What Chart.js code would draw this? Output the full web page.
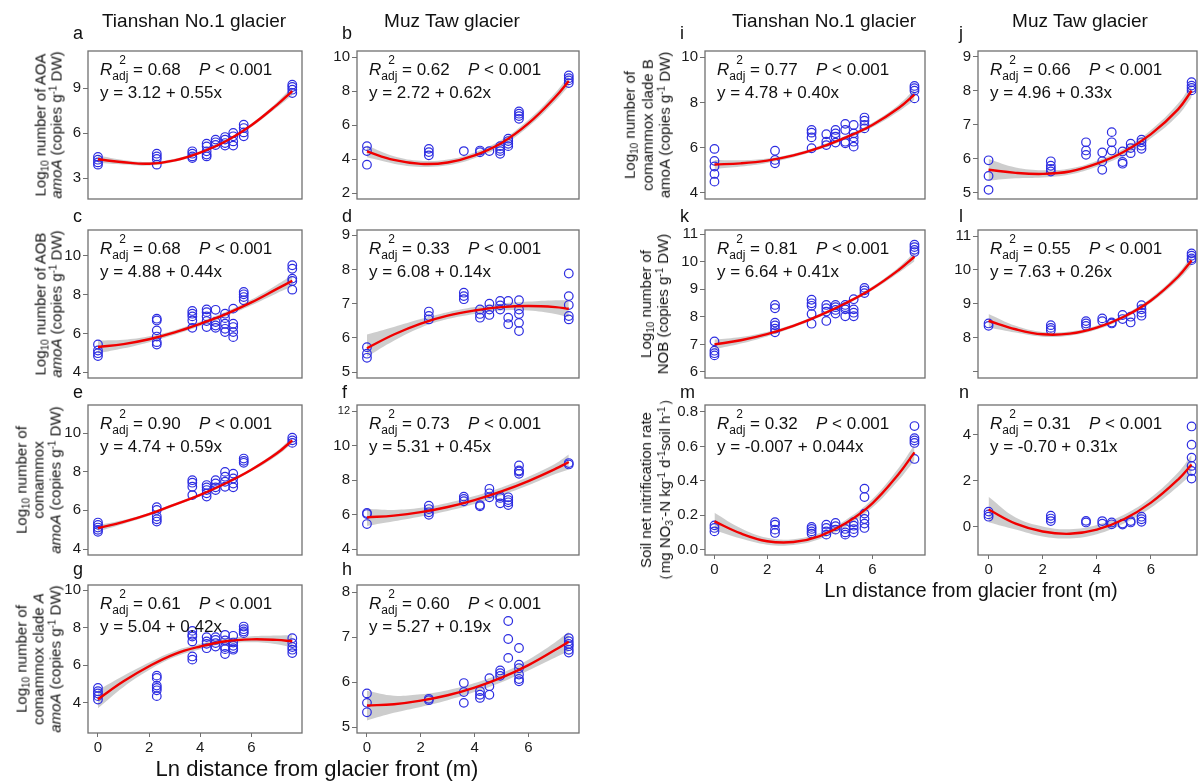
<!DOCTYPE html>
<html>
<head>
<meta charset="utf-8">
<script src="https://cdn.jsdelivr.net/npm/chart.js@4.4.1/dist/chart.umd.min.js"></script>
<style>
  body { margin: 0; background: #fff; }
  #fig { position: relative; width: 1203px; height: 782px; overflow: hidden;
         font-family: 'Liberation Sans', Arial, sans-serif; color: #111; }
  #fig canvas { position: absolute; }
  .abs { position: absolute; white-space: nowrap; line-height: 1; }
  .title { font-size: 19px; transform: translateX(-50%); }
  .let { font-size: 18px; }
  .ann { font-size: 17px; }
  .ss { display: inline-block; position: relative; width: 16px; height: 10px; }
  .ss span { position: absolute; font-size: 12px; line-height: 1; }
  .yl { font-size: 15px; text-align: center; transform: translate(-50%, -50%) rotate(-90deg); }
  .yl sub, .yl sup { font-size: 10px; line-height: 0; }
  .yl sub { vertical-align: -3px; }
  .yl sup { vertical-align: 5px; }
  .xt { font-size: 20px; transform: translateX(-50%); }
</style>
</head>
<body>
<div id="fig"></div>
<script>
// site positions (ln distance from glacier front)
const xTian = [0, 2.3, 3.69, 4.25, 4.6, 4.97, 5.29, 5.7, 7.6];
const xMuz = [0, 2.3, 3.6, 4.2, 4.55, 4.95, 5.25, 5.65, 7.5];
const fitXTian = [0, 1, 2, 3, 4, 5, 6, 7, 7.6];
const fitXMuz = [0, 1, 2, 3, 4, 5, 6, 7, 7.5];
const xTicks = [0, 2, 4, 6];

// a - AOA, Tianshan
const aPts = [[4.4,4.22,4.04,3.89],[4.62,4.44,4.27,3.89],[4.78,4.62,4.44,4.33],[5.29,5.11,4.78,4.56,4.44],[5.56,5.38,5.2],[5.73,5.56,5.33,5.16],[6.0,5.78,5.44,5.16],[6.56,6.33,6.04,5.78],[9.22,9.07,8.89,8.67]];
const aFit = [4.25, 4.05, 3.95, 4.18, 4.7, 5.45, 6.52, 7.88, 8.8];
const aLo = [4.0, 3.9, 3.83, 4.08, 4.6, 5.35, 6.4, 7.7, 8.52];
const aHi = [4.5, 4.2, 4.07, 4.28, 4.8, 5.55, 6.64, 8.06, 9.08];
const aTicks = [3, 6, 9];

// b - AOA, Muz Taw
const bPts = [[4.76,4.47,3.67],[4.6,4.41,4.22],[4.47],[4.5,4.4],[4.47],[4.76,4.6,4.47,4.31],[5.2,5.06,4.9,4.76],[6.8,6.67,6.53,6.37],[8.92,8.76,8.63,8.47]];
const bFit = [4.45, 3.95, 3.72, 3.8, 4.22, 4.95, 6.1, 7.65, 8.6];
const bLo = [4.1, 3.73, 3.54, 3.63, 4.05, 4.77, 5.9, 7.4, 8.28];
const bHi = [4.8, 4.17, 3.9, 3.97, 4.39, 5.13, 6.3, 7.9, 8.92];
const bTicks = [2, 4, 6, 8, 10];

// c - AOB, Tianshan
const cPts = [[5.43,5.12,4.98,4.83],[6.76,6.67,6.16,5.84,5.55,5.43],[7.16,7.02,6.88,6.67,6.29],[7.24,7.1,6.88,6.64,6.33],[7.22,6.59,6.41,6.29],[7.02,6.79,6.5,6.24,6.07],[7.28,6.5,6.33,6.07,5.81],[8.14,8.02,7.88,7.71],[9.52,9.34,8.83,8.71,8.26]];
const cFit = [5.3, 5.45, 5.7, 6.05, 6.5, 7.0, 7.6, 8.3, 8.72];
const cLo = [4.97, 5.23, 5.55, 5.93, 6.38, 6.88, 7.45, 8.08, 8.42];
const cHi = [5.63, 5.67, 5.85, 6.17, 6.62, 7.12, 7.75, 8.52, 9.02];
const cTicks = [4, 6, 8, 10];

// d - AOB, Muz Taw
const dPts = [[5.73,5.54,5.42],[6.77,6.64,6.54],[7.32,7.22,7.13],[6.83,6.7,6.59],[7.0,6.83,6.67],[7.08,6.95,6.83],[7.08,6.59,6.4],[7.1,6.83,6.7,6.44,6.2],[7.88,7.22,6.96,6.64,6.54]];
const dFit = [5.7, 6.1, 6.42, 6.65, 6.8, 6.9, 6.93, 6.9, 6.85];
const dLo = [5.45, 5.92, 6.3, 6.55, 6.7, 6.8, 6.8, 6.7, 6.6];
const dHi = [6.1, 6.32, 6.55, 6.75, 6.9, 7.0, 7.06, 7.1, 7.1];
const dTicks = [5, 6, 7, 8, 9];

// e - comammox, Tianshan
const ePts = [[5.37,5.25,5.11,4.99,4.89],[6.16,6.02,5.68,5.54,5.42],[7.56,7.43,7.22,6.79],[7.31,7.19,7.05,6.88,6.71],[7.56,7.39,7.19,7.05],[7.99,7.74,7.48,7.22],[7.9,7.65,7.39,7.19],[8.68,8.56,8.46],[9.76,9.62,9.49]];
const eFit = [5.08, 5.4, 5.8, 6.3, 6.8, 7.4, 8.1, 8.95, 9.62];
const eLo = [4.92, 5.3, 5.72, 6.23, 6.73, 7.33, 8.02, 8.83, 9.46];
const eHi = [5.24, 5.5, 5.88, 6.37, 6.87, 7.47, 8.18, 9.07, 9.78];
const eTicks = [4, 6, 8, 10];

// f - comammox, Muz Taw
const fPts = [[6.1,6.04,5.46],[6.52,6.33,6.14,6.0],[7.05,6.91,6.78],[6.56,6.49],[7.5,7.24,7.01],[7.07,6.97,6.66],[7.01,6.85,6.72,6.56],[8.85,8.56,8.5,8.37],[8.99,8.91]];
const fFit = [5.85, 5.95, 6.15, 6.45, 6.85, 7.35, 7.95, 8.65, 9.05];
const fLo = [5.35, 5.62, 5.9, 6.22, 6.62, 7.12, 7.7, 8.35, 8.62];
const fHi = [6.35, 6.28, 6.4, 6.68, 7.08, 7.58, 8.2, 8.95, 9.48];
const fTicks = [4, 6, 8, 10, 12];

// g - comammox clade A, Tianshan
const gPts = [[4.8,4.62,4.5,4.36,4.18],[5.45,5.33,4.92,4.8,4.67,4.36],[7.83,7.62,7.53,7.27,6.47,6.3],[7.5,7.27,7.14,6.91],[7.5,7.35,7.18,7.0],[7.62,7.32,6.97,6.86,6.6],[7.57,7.21,7.04,6.91,6.83],[8.06,7.92,7.8,7.71],[7.44,7.18,6.97,6.83,6.65]];
const gFit = [4.2, 5.15, 5.95, 6.6, 7.0, 7.28, 7.38, 7.35, 7.28];
const gLo = [3.72, 4.85, 5.75, 6.44, 6.86, 7.14, 7.22, 7.12, 6.95];
const gHi = [4.68, 5.45, 6.15, 6.76, 7.14, 7.42, 7.54, 7.58, 7.61];
const gTicks = [4, 6, 8, 10];

// h - comammox clade A, Muz Taw
const hPts = [[5.75,5.54,5.33],[5.63,5.6],[5.98,5.78,5.54],[5.8,5.72,5.65],[6.09,5.91,5.72],[6.26,6.2,6.14],[7.36,6.96,6.54],[6.76,6.39,6.31,6.17,6.07,6.02],[6.98,6.91,6.85,6.8,6.72,6.66]];
const hFit = [5.48, 5.51, 5.59, 5.71, 5.88, 6.1, 6.38, 6.72, 6.9];
const hLo = [5.15, 5.32, 5.45, 5.6, 5.78, 6.0, 6.26, 6.55, 6.68];
const hHi = [5.81, 5.7, 5.73, 5.82, 5.98, 6.2, 6.5, 6.89, 7.12];
const hTicks = [5, 6, 7, 8];

// i - comammox clade B, Tianshan
const iPts = [[5.94,5.41,5.16,4.83,4.49],[5.86,5.45,5.3],[6.78,6.66,6.45,5.97],[6.59,6.26,6.11],[6.78,6.63,6.48,6.22],[7.05,6.78,6.26,6.19],[7.0,6.63,6.45,6.26,6.04],[7.33,7.19,7.0,6.85],[8.73,8.63,8.52,8.18]];
const iFit = [5.25, 5.3, 5.42, 5.65, 6.0, 6.45, 7.0, 7.75, 8.35];
const iLo = [5.05, 5.16, 5.32, 5.57, 5.92, 6.37, 6.9, 7.6, 8.12];
const iHi = [5.45, 5.44, 5.52, 5.73, 6.08, 6.53, 7.1, 7.9, 8.58];
const iTicks = [4, 6, 8, 10];

// j - comammox clade B, Muz Taw
const jPts = [[5.95,5.49,5.08],[5.92,5.79,5.7,5.62],[6.48,6.24,6.11],[6.18,5.92,5.67],[6.78,6.48,6.24],[6.21,5.9,5.85],[6.44,6.31,6.16],[6.56,6.48,6.38,6.29],[8.25,8.15,8.08,8.01]];
const jFit = [5.67, 5.58, 5.55, 5.62, 5.85, 6.2, 6.72, 7.45, 8.0];
const jLo = [5.35, 5.42, 5.44, 5.53, 5.76, 6.1, 6.6, 7.28, 7.8];
const jHi = [5.99, 5.74, 5.66, 5.71, 5.94, 6.3, 6.84, 7.62, 8.2];
const jTicks = [5, 6, 7, 8, 9];

// k - NOB, Tianshan
const kPts = [[7.11,6.77,6.68,6.6],[8.43,8.31,7.79,7.69,7.57,7.44],[8.62,8.49,8.4,8.1,7.75],[8.43,8.31,8.19,7.85],[8.43,8.35,8.25,8.12],[8.43,8.35,8.27,8.02],[8.64,8.27,8.15,8.02],[9.05,8.96,8.86],[10.62,10.53,10.43,10.35]];
const kFit = [7.0, 7.15, 7.37, 7.67, 8.05, 8.5, 9.03, 9.7, 10.18];
const kLo = [6.82, 7.03, 7.29, 7.61, 7.99, 8.44, 8.96, 9.6, 10.02];
const kHi = [7.18, 7.27, 7.45, 7.73, 8.11, 8.56, 9.1, 9.8, 10.34];
const kTicks = [6, 7, 8, 9, 10, 11];

// l - NOB, Muz Taw
const lPts = [[8.42,8.35],[8.37,8.29,8.22],[8.49,8.42,8.35],[8.57,8.49],[8.45,8.42],[8.67,8.55],[8.62,8.45],[8.96,8.84,8.74,8.65],[10.49,10.42,10.34,10.29]];
const lFit = [8.5, 8.25, 8.1, 8.12, 8.3, 8.62, 9.1, 9.8, 10.28];
const lLo = [8.3, 8.15, 8.03, 8.06, 8.24, 8.56, 9.03, 9.7, 10.13];
const lHi = [8.7, 8.35, 8.17, 8.18, 8.36, 8.68, 9.17, 9.9, 10.43];
const lTicks = [7, 8, 9, 10, 11];
const lTickLabels = ['', '8', '9', '10', '11'];

// m - net nitrification rate, Tianshan
const mPts = [[0.142,0.127,0.107],[0.16,0.146,0.117,0.098],[0.133,0.121,0.107,0.094],[0.146,0.127,0.107,0.088],[0.156,0.137,0.117],[0.121,0.101,0.088],[0.16,0.14,0.12,0.1],[0.355,0.306,0.21,0.179,0.152,0.127],[0.718,0.648,0.634,0.62,0.527]];
const mFit = [0.165, 0.095, 0.05, 0.045, 0.08, 0.155, 0.27, 0.44, 0.565];
const mLo = [0.115, 0.065, 0.03, 0.028, 0.063, 0.135, 0.245, 0.405, 0.52];
const mHi = [0.215, 0.125, 0.07, 0.062, 0.097, 0.175, 0.295, 0.475, 0.61];
const mTicks = [0, 0.2, 0.4, 0.6, 0.8];
const mTickLabels = ['0.0', '0.2', '0.4', '0.6', '0.8'];

// n - net nitrification rate, Muz Taw
const nPts = [[0.66,0.54,0.44],[0.48,0.36,0.25],[0.26,0.19],[0.25,0.14],[0.19,0.11],[0.14,0.1],[0.25,0.19],[0.44,0.33,0.22],[4.35,3.56,3.0,2.64,2.42,2.09]];
const nFit = [0.75, 0.14, -0.2, -0.3, -0.12, 0.33, 1.05, 2.05, 2.7];
const nLo = [0.2, -0.12, -0.42, -0.5, -0.32, 0.14, 0.83, 1.75, 2.28];
const nHi = [1.3, 0.4, 0.02, -0.1, 0.08, 0.52, 1.27, 2.35, 3.12];
const nTicks = [0, 2, 4];

// layout
const C1 = [88, 302], C2 = [357, 579], C3 = [705, 925], C4 = [978, 1197];
const R1 = [51, 199], R2 = [230, 378], R3 = [405, 555], R4 = [585, 733];
const letterBase = { r1: 39.5, r2: 222, r3: 398.5, r4: 575 };
const logNum = 'Log<sub>10</sub> number of';
const copies = '(copies g<sup>-1</sup> DW)';

const panels = [
  { id: 'a', pts: aPts, xs: xTian, fx: fitXTian, fit: aFit, lo: aLo, hi: aHi, ticks: aTicks, col: C1, row: R1, lb: letterBase.r1, xr: [-0.39, 7.98], yr: [1.6, 11.47], r2: '0.68', eq: 'y = 3.12 + 0.55x',
    yl: `${logNum} AOA<br><i>amoA</i> ${copies}`, ylx: 48, ylh: 15.5 },
  { id: 'b', pts: bPts, xs: xMuz, fx: fitXMuz, fit: bFit, lo: bLo, hi: bHi, ticks: bTicks, col: C2, row: R1, lb: letterBase.r1, xr: [-0.37, 7.88], yr: [1.65, 10.36], r2: '0.62', eq: 'y = 2.72 + 0.62x' },
  { id: 'c', pts: cPts, xs: xTian, fx: fitXTian, fit: cFit, lo: cLo, hi: cHi, ticks: cTicks, col: C1, row: R2, lb: letterBase.r2, xr: [-0.39, 7.98], yr: [3.7, 11.34], r2: '0.68', eq: 'y = 4.88 + 0.44x',
    yl: `${logNum} AOB<br><i>amoA</i> ${copies}`, ylx: 48, ylh: 15.5 },
  { id: 'd', pts: dPts, xs: xMuz, fx: fitXMuz, fit: dFit, lo: dLo, hi: dHi, ticks: dTicks, col: C2, row: R2, lb: letterBase.r2, xr: [-0.37, 7.88], yr: [4.83, 9.15], r2: '0.33', eq: 'y = 6.08 + 0.14x' },
  { id: 'e', pts: ePts, xs: xTian, fx: fitXTian, fit: eFit, lo: eLo, hi: eHi, ticks: eTicks, col: C1, row: R3, lb: letterBase.r3, xr: [-0.39, 7.98], yr: [3.69, 11.45], r2: '0.90', eq: 'y = 4.74 + 0.59x',
    yl: `${logNum}<br>comammox<br><i>amoA</i> ${copies}`, ylx: 38, ylh: 17 },
  { id: 'f', pts: fPts, xs: xMuz, fx: fitXMuz, fit: fFit, lo: fLo, hi: fHi, ticks: fTicks, col: C2, row: R3, lb: letterBase.r3, xr: [-0.37, 7.88], yr: [3.67, 12.35], r2: '0.73', eq: 'y = 5.31 + 0.45x', smallTop: 12 },
  { id: 'g', pts: gPts, xs: xTian, fx: fitXTian, fit: gFit, lo: gLo, hi: gHi, ticks: gTicks, col: C1, row: R4, lb: letterBase.r4, xr: [-0.39, 7.98], yr: [2.4, 10.27], r2: '0.61', eq: 'y = 5.04 + 0.42x', bottom: true,
    yl: `${logNum}<br>comammox clade <i>A</i><br><i>amoA</i> ${copies}`, ylx: 38, ylh: 17 },
  { id: 'h', pts: hPts, xs: xMuz, fx: fitXMuz, fit: hFit, lo: hLo, hi: hHi, ticks: hTicks, col: C2, row: R4, lb: letterBase.r4, xr: [-0.37, 7.88], yr: [4.87, 8.16], r2: '0.60', eq: 'y = 5.27 + 0.19x', bottom: true },
  { id: 'i', pts: iPts, xs: xTian, fx: fitXTian, fit: iFit, lo: iLo, hi: iHi, ticks: iTicks, col: C3, row: R1, lb: letterBase.r1, xr: [-0.36, 8.0], yr: [3.72, 10.28], r2: '0.77', eq: 'y = 4.78 + 0.40x',
    yl: `${logNum}<br>comammox clade B<br>amoA ${copies}`, ylx: 647, ylh: 17.5 },
  { id: 'j', pts: jPts, xs: xMuz, fx: fitXMuz, fit: jFit, lo: jLo, hi: jHi, ticks: jTicks, col: C4, row: R1, lb: letterBase.r1, xr: [-0.39, 7.7], yr: [4.81, 9.17], r2: '0.66', eq: 'y = 4.96 + 0.33x' },
  { id: 'k', pts: kPts, xs: xTian, fx: fitXTian, fit: kFit, lo: kLo, hi: kHi, ticks: kTicks, col: C3, row: R2, lb: letterBase.r2, xr: [-0.36, 8.0], yr: [5.78, 11.15], r2: '0.81', eq: 'y = 6.64 + 0.41x',
    yl: `${logNum}<br>NOB ${copies}`, ylx: 654, ylh: 17 },
  { id: 'l', pts: lPts, xs: xMuz, fx: fitXMuz, fit: lFit, lo: lLo, hi: lHi, ticks: lTicks, tickLabels: lTickLabels, col: C4, row: R2, lb: letterBase.r2, xr: [-0.39, 7.7], yr: [6.81, 11.18], r2: '0.55', eq: 'y = 7.63 + 0.26x' },
  { id: 'm', pts: mPts, xs: xTian, fx: fitXTian, fit: mFit, lo: mLo, hi: mHi, ticks: mTicks, tickLabels: mTickLabels, col: C3, row: R3, lb: letterBase.r3, xr: [-0.36, 8.0], yr: [-0.03, 0.84], r2: '0.32', eq: 'y = -0.007 + 0.044x', bottom: true,
    yl: 'Soil net nitrification rate<br>（mg NO<sub>3</sub><sup>-</sup>-N kg<sup>-1</sup> d<sup>-1</sup>soil h<sup>-1</sup>）', ylx: 655, ylh: 19, ylyOff: 10 },
  { id: 'n', pts: nPts, xs: xMuz, fx: fitXMuz, fit: nFit, lo: nLo, hi: nHi, ticks: nTicks, col: C4, row: R3, lb: letterBase.r3, xr: [-0.39, 7.7], yr: [-1.22, 5.28], r2: '0.31', eq: 'y = -0.70 + 0.31x', bottom: true }
];

const FONT = "'Liberation Sans', Arial, sans-serif";
const BLUE = 'rgb(45,45,225)';
const RED = 'rgb(240,0,0)';
const GREY_BAND = 'rgba(200,200,200,0.9)';
const FRAME = '#707070';
const INK = '#1a1a1a';
const YW = 45, PT = 12, PR = 6, PB = 12, XH = 30;

Chart.defaults.font.family = FONT;
const fig = document.getElementById('fig');

function put(cls, html, left, baseline, fs, extra) {
  const d = document.createElement('div');
  d.className = 'abs ' + cls;
  d.innerHTML = html;
  d.style.left = left + 'px';
  d.style.top = (baseline - 0.8465 * fs) + 'px';
  if (extra) Object.assign(d.style, extra);
  fig.appendChild(d);
  return d;
}

function scatterData(xs, groups) {
  const out = [];
  groups.forEach((ys, i) => ys.forEach(y => out.push({ x: xs[i], y })));
  return out;
}
const lineData = (xs, ys) => ys.map((y, i) => ({ x: xs[i], y }));

const framePlugin = {
  id: 'frame',
  afterDraw(chart) {
    const { ctx, chartArea: a } = chart;
    ctx.save();
    ctx.strokeStyle = FRAME;
    ctx.lineWidth = 1.3;
    ctx.strokeRect(a.left, a.top, a.right - a.left, a.bottom - a.top);
    ctx.restore();
  }
};

function drawPanel(p) {
  const [l, r] = p.col, [t, b] = p.row;
  const fw = r - l, fh = b - t;
  const w = YW + fw + PR, h = PT + fh + (p.bottom ? XH : PB);
  const cv = document.createElement('canvas');
  cv.width = w; cv.height = h;
  cv.style.left = (l - YW) + 'px';
  cv.style.top = (t - PT) + 'px';
  cv.style.width = w + 'px';
  cv.style.height = h + 'px';
  fig.appendChild(cv);

  new Chart(cv, {
    type: 'scatter',
    data: {
      datasets: [
        { type: 'line', data: lineData(p.fx, p.lo), borderWidth: 0, pointRadius: 0, fill: false, tension: 0.4, order: 3 },
        { type: 'line', data: lineData(p.fx, p.hi), borderWidth: 0, pointRadius: 0, fill: '-1', backgroundColor: GREY_BAND, tension: 0.4, order: 3 },
        { data: scatterData(p.xs, p.pts), pointRadius: 4.3, pointBorderWidth: 1.2, borderColor: BLUE, backgroundColor: 'rgba(0,0,0,0)', order: 2 },
        { type: 'line', data: lineData(p.fx, p.fit), borderColor: RED, borderWidth: 2.4, pointRadius: 0, fill: false, tension: 0.4, order: 1 }
      ]
    },
    options: {
      responsive: false,
      animation: false,
      events: [],
      layout: { padding: { left: 0, top: PT, right: PR, bottom: p.bottom ? 0 : PB } },
      plugins: { legend: { display: false }, tooltip: { enabled: false } },
      scales: {
        x: {
          type: 'linear', min: p.xr[0], max: p.xr[1], display: !!p.bottom,
          afterBuildTicks: s => { s.ticks = xTicks.map(v => ({ value: v })); },
          afterFit: s => { if (p.bottom) s.height = XH; },
          grid: { drawOnChartArea: false, drawTicks: true, tickLength: 4, color: FRAME },
          border: { display: false },
          ticks: { font: { size: 15, family: FONT }, color: INK, padding: 2, maxRotation: 0, autoSkip: false }
        },
        y: {
          type: 'linear', min: p.yr[0], max: p.yr[1],
          afterBuildTicks: s => { s.ticks = p.ticks.map(v => ({ value: v })); },
          afterFit: s => { s.width = YW; },
          grid: { drawOnChartArea: false, drawTicks: true, tickLength: 5, color: FRAME },
          border: { display: false },
          ticks: {
            color: INK, padding: 2, autoSkip: false,
            font: ctx => ({ size: (p.smallTop && ctx.tick && ctx.tick.value === p.smallTop) ? 11 : 15, family: FONT }),
            callback: (v, i) => p.tickLabels ? p.tickLabels[i] : String(v)
          }
        }
      }
    },
    plugins: [framePlugin]
  });

  // panel letter
  const letterX = { 88: 73, 357: 342, 705: 680, 978: 959 }[l];
  put('let', p.id, letterX, p.lb, 18);

  // statistics annotation
  const annHtml = `<i>R</i><span class="ss"><span style="left:7px;top:-11px">2</span>` +
    `<span style="left:0;top:5px">adj</span></span> = ${p.r2}` +
    `<span style="position:absolute;left:99px;top:0"><i>P</i> &lt; 0.001</span>`;
  put('ann', annHtml, l + 12, t + 24, 17);
  put('ann', p.eq, l + 12, t + 47, 17);

  // y-axis title
  if (p.yl) {
    const d = document.createElement('div');
    d.className = 'abs yl';
    d.innerHTML = p.yl;
    d.style.left = p.ylx + 'px';
    d.style.top = ((t + b) / 2 + (p.ylyOff || 0)) + 'px';
    d.style.lineHeight = p.ylh + 'px';
    fig.appendChild(d);
  }
}

panels.forEach(drawPanel);

// column titles
put('title', 'Tianshan No.1 glacier', 194, 27, 19);
put('title', 'Muz Taw glacier', 452, 27, 19);
put('title', 'Tianshan No.1 glacier', 824, 27, 19);
put('title', 'Muz Taw glacier', 1080, 27, 19);

// x-axis titles
put('xt', 'Ln distance from glacier front (m)', 317, 777, 22, { fontSize: '22px' });
put('xt', 'Ln distance from glacier front (m)', 971, 597, 20);
</script>
</body>
</html>
